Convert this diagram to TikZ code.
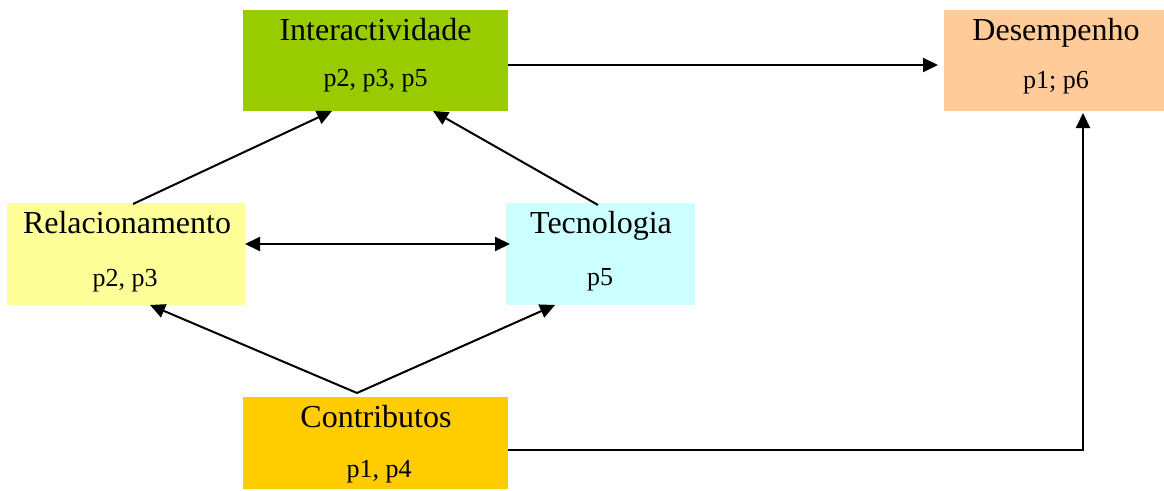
\documentclass[tikz,border=0pt]{standalone}
\usepackage{fontspec}
\setmainfont{Liberation Serif}
\usetikzlibrary{arrows.meta}
\definecolor{cgreen}{HTML}{99CC00}
\definecolor{cpeach}{HTML}{FFCC99}
\definecolor{cyellow}{HTML}{FFFF99}
\definecolor{ccyan}{HTML}{CCFFFF}
\definecolor{cgold}{HTML}{FFCC00}
\begin{document}
\begin{tikzpicture}[x=1pt,y=-1pt,
  box/.style={draw=none, rectangle, inner sep=0pt, outer sep=0pt},
  ttl/.style={inner sep=0pt, anchor=base, font=\fontsize{32}{38}\selectfont},
  sub/.style={inner sep=0pt, anchor=base, font=\fontsize{26}{31}\selectfont},
  arr/.style={line width=2pt, -{Triangle[length=15pt,width=14pt]}},
  darr/.style={line width=2pt, {Triangle[length=15pt,width=14pt]}-{Triangle[length=15pt,width=14pt]}}]
\useasboundingbox[fill=white] (0,0) rectangle (1164,490);
% boxes
\node[box, fill=cgreen, minimum width=265pt, minimum height=101pt] (inter) at (375.5,60.5) {};
\node[box, fill=cpeach, minimum width=220pt, minimum height=101pt] (desemp) at (1054,60.5) {};
\node[box, fill=cyellow, minimum width=238pt, minimum height=102pt] (relac) at (126,254) {};
\node[box, fill=ccyan, minimum width=189pt, minimum height=102pt] (tecno) at (600.5,254) {};
\node[box, fill=cgold, minimum width=265pt, minimum height=92pt] (contr) at (375.5,443) {};
% texts
\node[ttl] (interT) at (375.5,40) {Interactividade};
\node[sub] (interS) at (375.5,86) {p2, p3, p5};
\node[ttl] (desempT) at (1056,40) {Desempenho};
\node[sub] (desempS) at (1056,88) {p1; p6};
\node[ttl] (relacT) at (127,233) {Relacionamento};
\node[sub] (relacS) at (125,286) {p2, p3};
\node[ttl] (tecnoT) at (601,233) {Tecnologia};
\node[sub] (tecnoS) at (600,285) {p5};
\node[ttl] (contrT) at (376,427) {Contributos};
\node[sub] (contrS) at (379,477) {p1, p4};
% connectors
\draw[arr] ([yshift=-4.5pt]inter.east) -- ([xshift=-6pt,yshift=-4.5pt]desemp.west);
\draw[arr] ([yshift=-7pt]contr.east) -| ([xshift=29pt,yshift=-2pt]desemp.south);
\draw[arr] ([xshift=7pt,yshift=-1pt]relac.north) -- ([xshift=-43.5pt]inter.south);
\draw[arr] ([xshift=-2.5pt,yshift=-2pt]tecno.north) -- ([xshift=57.5pt]inter.south);
\draw[darr] ([yshift=10pt]relac.east) -- ([xshift=4pt,yshift=10pt]tecno.west);
\coordinate (apex) at ([xshift=-18.5pt,yshift=4pt]contr.north);
\draw[arr] (apex) -- ([xshift=24pt]relac.south);
\draw[arr] (apex) -- ([xshift=-45.5pt]tecno.south);
\end{tikzpicture}
\end{document}
